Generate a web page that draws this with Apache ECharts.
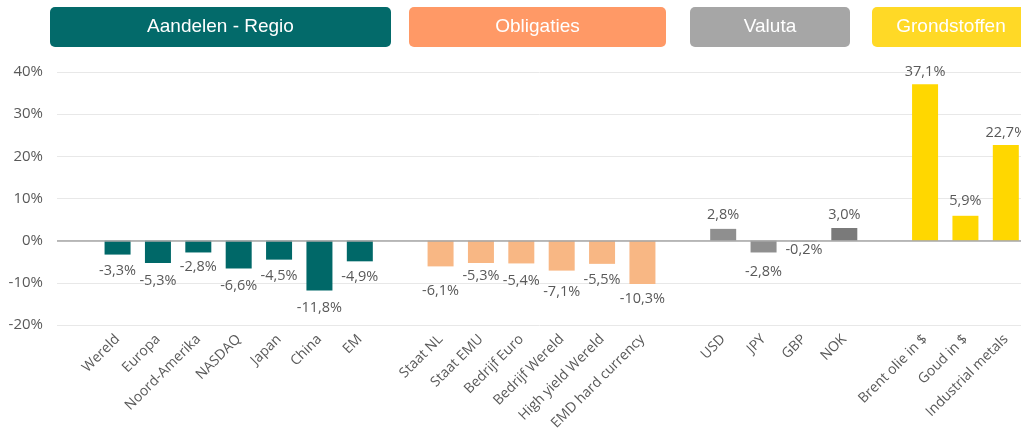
<!DOCTYPE html>
<html>
<head>
<meta charset="utf-8">
<script src="https://cdn.jsdelivr.net/npm/echarts@6/dist/echarts.min.js"></script>
<style>
html,body{margin:0;padding:0;background:#fff;}
#chart{width:1021px;height:447px;}
</style>
</head>
<body>
<div id="chart"></div>
<script>
// ---- data ----
const aandelenCats = ['Wereld','Europa','Noord-Amerika','NASDAQ','Japan','China','EM'];
const aandelenVals = [-3.3,-5.3,-2.8,-6.6,-4.5,-11.8,-4.9];
const obligatiesCats = ['Staat NL','Staat EMU','Bedrijf Euro','Bedrijf Wereld','High yield Wereld','EMD hard currency'];
const obligatiesVals = [-6.1,-5.3,-5.4,-7.1,-5.5,-10.3];
const valutaCats = ['USD','JPY','GBP','NOK'];
const valutaVals = [2.8,-2.8,-0.2,3.0];
const grondstoffenCats = ['Brent olie in $','Goud in $','Industrial metals'];
const grondstoffenVals = [37.1,5.9,22.7];
const groupTitles = ['Aandelen - Regio','Obligaties','Valuta','Grondstoffen'];

// ---- styles ----
const groupColors = ['#006868','#F8B784','#8F8F8F','#FFD700'];
const headerColors = ['#036A6A','#FF9966','#A6A6A6','#FFD926'];
const valutaColors = ['#8F8F8F','#8F8F8F','#A6A6A6','#7A7A7A'];
// vertical nudges of the data labels (px), per group, mimicking the reference placement
const labelShifts = [
  [0,1,-2,1,0,1,-1],
  [8,-4,1,5,0,-2],
  [3,3,-8,3],
  [4,2,4]
];

const groups = [
  {cats: aandelenCats, vals: aandelenVals},
  {cats: obligatiesCats, vals: obligatiesVals},
  {cats: valutaCats, vals: valutaVals},
  {cats: grondstoffenCats, vals: grondstoffenVals}
];
const categories = [];
const data = [];
groups.forEach((g, gi) => {
  categories.push('');
  data.push('-');
  g.cats.forEach((c, i) => {
    categories.push(c);
    let col = groupColors[gi];
    if (gi === 2) col = valutaColors[i];
    data.push({
      value: g.vals[i],
      itemStyle: {color: col},
      label: {offset: [0, labelShifts[gi][i]]}
    });
  });
});

const fmt = v => v.toFixed(1).replace('.', ',') + '%';

const chart = echarts.init(document.getElementById('chart'), null, {renderer: 'canvas'});

const headerBoxes = [
  {x: 50, w: 341},
  {x: 409, w: 257},
  {x: 690, w: 160},
  {x: 872, w: 158}
];
const graphic = headerBoxes.map((b, i) => ({
  type: 'group',
  children: [
    {type: 'rect', shape: {x: b.x, y: 7, width: b.w, height: 40, r: 5}, style: {fill: headerColors[i]}},
    {type: 'text', style: {x: b.x + b.w / 2, y: 27, text: groupTitles[i], fill: '#fff', font: '19px "Liberation Sans", Arial, sans-serif', align: 'center', verticalAlign: 'middle'}}
  ]
}));

chart.setOption({
  animation: false,
  grid: {left: 57, top: 72, width: 969, height: 253, containLabel: false, outerBoundsMode: 'none'},
  graphic: graphic,
  xAxis: {
    type: 'category',
    data: categories,
    axisLine: {show: false, onZero: false},
    axisTick: {show: false},
    splitLine: {show: false},
    axisLabel: {
      rotate: 45, interval: 0, margin: 12,
      color: '#595959', fontSize: 14, fontFamily: '"Open Sans", sans-serif'
    }
  },
  yAxis: {
    type: 'value',
    min: -20, max: 40, interval: 10,
    axisLine: {show: false},
    axisTick: {show: false},
    splitLine: {lineStyle: {color: '#E8E8E8', width: 1}},
    axisLabel: {
      margin: 14, color: '#595959', fontSize: 15, fontFamily: '"Open Sans", sans-serif',
      formatter: v => v + '%'
    }
  },
  series: [{
    type: 'bar',
    data: data,
    barWidth: 26,
    label: {
      show: true,
      position: 'outside',
      distance: 9,
      color: '#595959',
      fontSize: 14.5,
      fontFamily: '"Open Sans", sans-serif',
      formatter: p => fmt(p.value)
    },
    markLine: {
      silent: true, symbol: 'none',
      label: {show: false},
      lineStyle: {color: '#A6A6A6', width: 1.5, type: 'solid'},
      data: [{yAxis: 0}]
    }
  }]
});
</script>
</body>
</html>
